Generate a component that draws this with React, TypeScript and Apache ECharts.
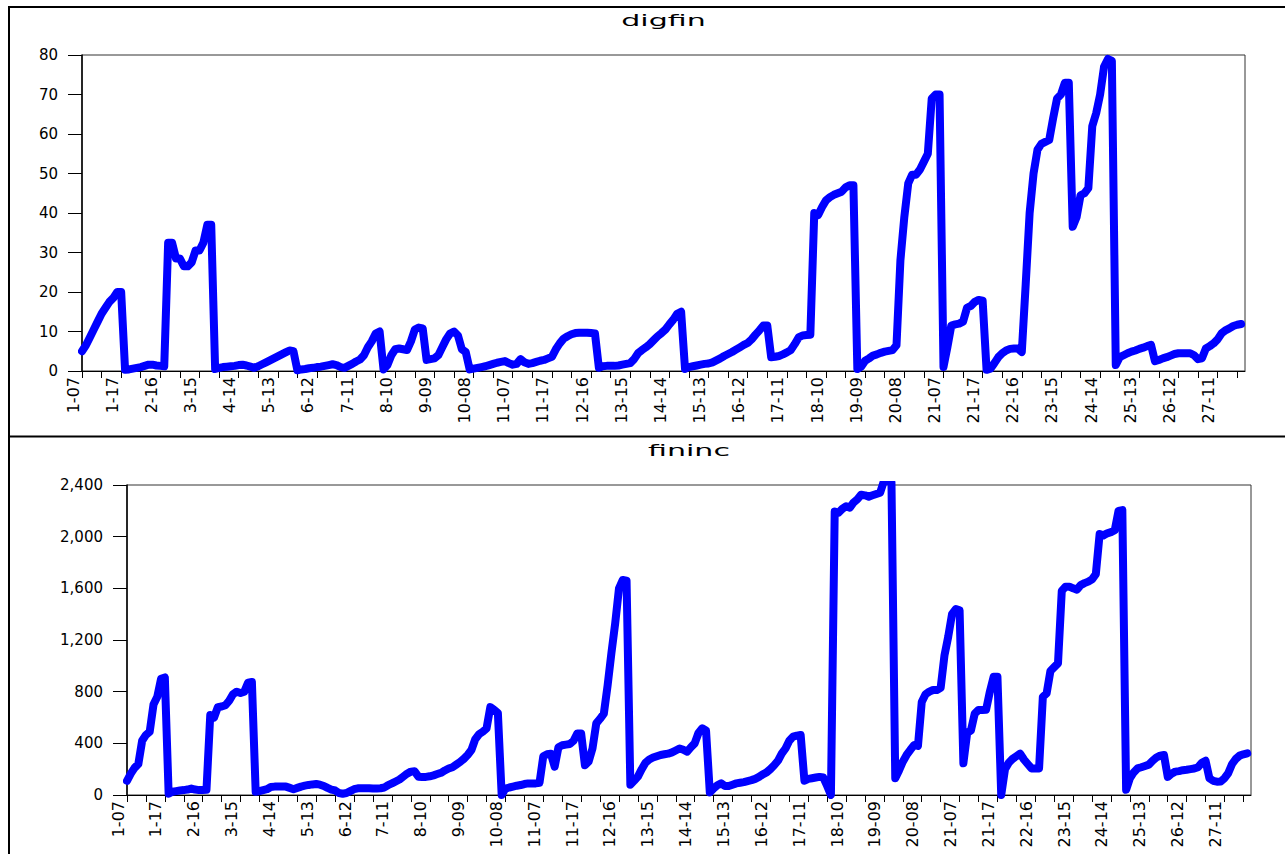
import React, { useEffect, useRef } from 'react';
import * as echarts from 'echarts';

// Panel structure: 27 cross-sections, years 2007-2017 (stacked panel observations)
const CROSS_SECTION_COUNT = 27;
const YEAR_CODES = ['07', '08', '09', '10', '11', '12', '13', '14', '15', '16', '17'];

// digfin, one row of 11 values per cross-section
const DIGFIN: number[] = [
  5, 6.5, 8.5, 10.5, 12.5, 14.5, 16, 17.5, 18.5, 20, 20,
  0.3, 0.4, 0.6, 0.8, 1, 1.3, 1.6, 1.6, 1.4, 1.3, 1.2,
  32.5, 32.5, 28.5, 28.5, 26.5, 26.5, 27.5, 30.5, 30.5, 32.5, 37,
  37, 0.5, 0.8, 1, 1.1, 1.2, 1.3, 1.5, 1.6, 1.4, 1.1,
  0.8, 1.2, 1.7, 2.2, 2.7, 3.2, 3.7, 4.2, 4.7, 5.2, 5,
  0.2, 0.4, 0.5, 0.7, 0.8, 1, 1.1, 1.3, 1.5, 1.7, 1.5,
  1, 0.8, 1.3, 1.8, 2.4, 2.9, 4, 6, 7.5, 9.5, 10,
  0.4, 1.5, 4, 5.5, 5.7, 5.5, 5.3, 7.5, 10.5, 11, 10.8,
  2.8, 3, 3.2, 4, 6, 8, 9.5, 10, 9, 5.5, 4.8,
  0.4, 0.6, 0.8, 1, 1.2, 1.5, 1.8, 2.1, 2.3, 2.5, 2,
  1.6, 1.8, 3, 2.2, 1.8, 2, 2.3, 2.6, 2.8, 3.2, 3.6,
  5.5, 7, 8.2, 8.8, 9.3, 9.6, 9.7, 9.7, 9.7, 9.6, 9.5,
  0.8, 1.2, 1.3, 1.3, 1.3, 1.4, 1.6, 1.8, 2, 3, 4.5,
  5.3, 6, 6.8, 7.8, 8.8, 9.6, 10.5, 11.8, 13, 14.5, 15,
  0.5, 1, 1.2, 1.4, 1.6, 1.8, 1.9, 2.2, 2.7, 3.2, 3.8,
  4.3, 4.8, 5.4, 6, 6.6, 7.1, 8, 9.2, 10.3, 11.5, 11.5,
  3.5, 3.6, 3.8, 4.2, 4.7, 5.3, 6.8, 8.5, 9, 9.1, 9.2,
  40, 39.5, 41.5, 43.2, 44, 44.6, 45, 45.4, 46.5, 47, 47,
  0.5, 1.1, 2.6, 3.2, 3.9, 4.2, 4.6, 4.9, 5.1, 5.3, 6.5,
  28, 39, 47.5, 49.7, 49.7, 51, 53, 55, 69, 70, 70,
  1, 6, 11.5, 11.8, 12, 12.5, 16, 16.5, 17.5, 18, 17.8,
  0.3, 0.6, 2, 3.5, 4.5, 5.2, 5.6, 5.7, 5.7, 4.8, 22,
  40, 50, 56, 57.5, 58, 58.5, 64, 69, 70, 73, 73,
  36.5, 39, 44.5, 45, 46.3, 62, 65.3, 70, 77, 79, 78.5,
  1.5, 3.5, 4, 4.5, 4.9, 5.2, 5.6, 5.9, 6.3, 6.6, 2.5,
  2.8, 3.2, 3.5, 3.9, 4.3, 4.5, 4.5, 4.5, 4.5, 4, 3,
  3.2, 5.7, 6.3, 7, 8, 9.5, 10.3, 10.8, 11.4, 11.7, 11.9,
];

// fininc, one row of 11 values per cross-section
const FININC: number[] = [
  110, 165, 210, 240, 420, 465, 490, 700, 760, 900, 910,
  10, 25, 30, 35, 38, 42, 50, 42, 38, 38, 40,
  620, 600, 680, 685, 695, 730, 780, 800, 790, 800, 870,
  875, 25, 30, 38, 45, 62, 65, 65, 65, 65, 55,
  45, 55, 65, 72, 78, 82, 85, 80, 70, 55, 42,
  35, 15, 10, 15, 30, 45, 52, 52, 52, 52, 50,
  50, 52, 58, 77, 90, 105, 120, 142, 165, 181, 183,
  142, 140, 140, 145, 152, 162, 172, 190, 205, 215, 235,
  255, 280, 310, 348, 430, 470, 490, 515, 680, 660, 635,
  0, 50, 58, 65, 72, 77, 85, 90, 90, 90, 95,
  300, 315, 320, 219, 370, 385, 390, 395, 420, 477, 477,
  230, 260, 360, 555, 590, 630, 850, 1100, 1329, 1600, 1665,
  1660, 80, 110, 142, 200, 250, 275, 290, 300, 310, 315,
  320, 330, 345, 360, 350, 335, 370, 400, 480, 516, 500,
  20, 50, 75, 90, 70, 70, 80, 90, 95, 100, 108,
  115, 125, 140, 160, 175, 200, 230, 265, 320, 360, 420,
  452, 460, 465, 110, 125, 130, 135, 140, 135, 70, 0,
  2195, 2185, 2215, 2235, 2225, 2265, 2290, 2325, 2320, 2310, 2320,
  2330, 2340, 2430, 2440, 2420, 130, 190, 258, 310, 350, 387,
  380, 720, 780, 800, 813, 813, 830, 1080, 1226, 1400, 1440,
  1430, 245, 480, 500, 630, 658, 658, 660, 800, 916, 916,
  0, 200, 250, 280, 300, 320, 275, 240, 206, 205, 206,
  760, 787, 960, 990, 1019, 1580, 1613, 1613, 1600, 1590, 1625,
  1640, 1652, 1670, 1710, 2020, 2010, 2026, 2035, 2050, 2200, 2206,
  40, 130, 175, 206, 215, 225, 235, 265, 290, 305, 310,
  140, 165, 181, 185, 192, 195, 200, 205, 215, 250, 265,
  130, 110, 103, 105, 130, 170, 240, 280, 305, 315, 323,
];

const DIGFIN_MIN = 0;
const DIGFIN_MAX = 80;
const DIGFIN_STEP = 10;
const FININC_MIN = 0;
const FININC_MAX = 2400;
const FININC_STEP = 400;

// category labels "cs-yy"; one trailing empty slot so the axis ends one step after the last observation
const CATEGORIES: string[] = [];
for (let cs = 1; cs <= CROSS_SECTION_COUNT; cs++) {
  for (const y of YEAR_CODES) CATEGORIES.push(`${cs}-${y}`);
}
CATEGORIES.push('');

const FONT = "'DejaVu Sans', 'Liberation Sans', Arial, sans-serif";
const BLUE = '#0000ff';

function xAxisFor(gridIndex: number) {
  return {
    type: 'category',
    gridIndex,
    data: CATEGORIES,
    boundaryGap: false,
    axisLine: { show: true, onZero: false, lineStyle: { color: '#000', width: 1 } },
    axisTick: { show: true, interval: 4, length: 7, lineStyle: { color: '#000', width: 1 } },
    axisLabel: {
      show: true,
      interval: 9,
      rotate: 90,
      margin: 6,
      color: '#000',
      fontFamily: FONT,
      fontSize: 16,
      align: 'right',
      verticalAlign: 'bottom',
      padding: [0, 0, 1, 0],
    },
    splitLine: { show: false },
  };
}

function yAxisFor(gridIndex: number, min: number, max: number, interval: number, comma: boolean) {
  return {
    type: 'value',
    gridIndex,
    min,
    max,
    interval,
    axisLine: { show: true, lineStyle: { color: '#000', width: 1.5 } },
    axisTick: { show: true, inside: false, length: 14, lineStyle: { color: '#000', width: 1 } },
    axisLabel: {
      show: true,
      margin: 24,
      color: '#000',
      fontFamily: FONT,
      fontSize: 15,
      formatter: (v: number) => (comma ? v.toLocaleString('en-US') : String(v)),
    },
    splitLine: { show: false },
  };
}

export default function App() {
  const ref = useRef<HTMLDivElement | null>(null);

  useEffect(() => {
    if (!ref.current) return;
    const chart = echarts.init(ref.current, undefined, { renderer: 'svg' });
    const frame = { stroke: '#000', lineWidth: 2 };
    chart.setOption({
      animation: false,
      backgroundColor: '#ffffff',
      grid: [
        { left: 82, top: 55, right: 40, height: 316, show: true, borderColor: '#333', borderWidth: 1, backgroundColor: 'transparent' },
        { left: 127, top: 485, right: 34, height: 310, show: true, borderColor: '#333', borderWidth: 1, backgroundColor: 'transparent' },
      ],
      xAxis: [xAxisFor(0), xAxisFor(1)],
      yAxis: [
        yAxisFor(0, DIGFIN_MIN, DIGFIN_MAX, DIGFIN_STEP, false),
        yAxisFor(1, FININC_MIN, FININC_MAX, FININC_STEP, true),
      ],
      series: [
        {
          name: 'digfin',
          type: 'line',
          xAxisIndex: 0,
          yAxisIndex: 0,
          data: DIGFIN,
          showSymbol: false,
          symbol: 'none',
          clip: true,
          silent: true,
          lineStyle: { color: BLUE, width: 8, cap: 'round', join: 'round' },
        },
        {
          name: 'fininc',
          type: 'line',
          xAxisIndex: 1,
          yAxisIndex: 1,
          data: FININC,
          showSymbol: false,
          symbol: 'none',
          clip: true,
          silent: true,
          lineStyle: { color: BLUE, width: 8, cap: 'round', join: 'round' },
        },
      ],
      graphic: [
        { type: 'line', silent: true, shape: { x1: 8, y1: 7, x2: 1285, y2: 7 }, style: frame },
        { type: 'line', silent: true, shape: { x1: 9, y1: 6, x2: 9, y2: 854 }, style: frame },
        { type: 'line', silent: true, shape: { x1: 8, y1: 436.5, x2: 1285, y2: 436.5 }, style: frame },
        {
          type: 'text',
          silent: true,
          x: 663.5,
          y: 21,
          scaleX: 1.88,
          style: {
            text: 'digfin',
            fill: '#000',
            font: `16px ${FONT}`,
            align: 'center',
            verticalAlign: 'middle',
            textAlign: 'center',
            textVerticalAlign: 'middle',
          },
        },
        {
          type: 'text',
          silent: true,
          x: 689,
          y: 451,
          scaleX: 1.88,
          style: {
            text: 'fininc',
            fill: '#000',
            font: `16px ${FONT}`,
            align: 'center',
            verticalAlign: 'middle',
            textAlign: 'center',
            textVerticalAlign: 'middle',
          },
        },
      ],
    });
    return () => chart.dispose();
  }, []);

  return (
    <div
      ref={ref}
      style={{ position: 'absolute', left: 0, top: 0, width: 1285, height: 854, background: '#fff' }}
    />
  );
}
